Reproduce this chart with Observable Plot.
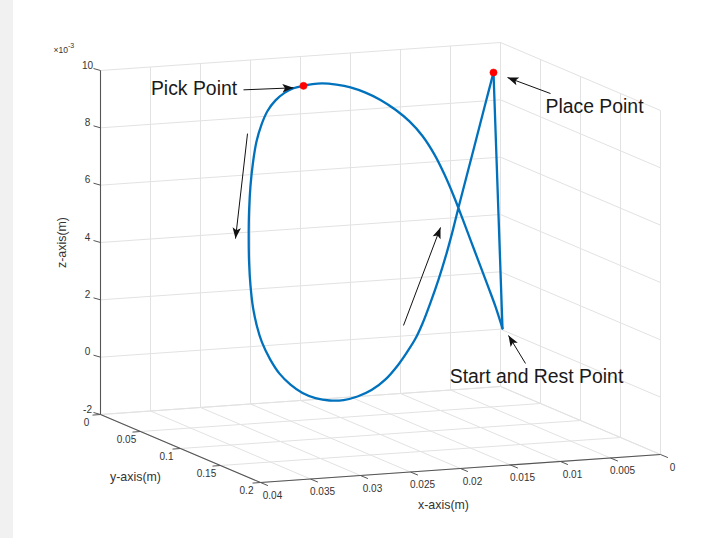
<!DOCTYPE html>
<html><head><meta charset="utf-8">
<script src="https://cdn.jsdelivr.net/npm/d3@7"></script>
<script src="https://cdn.jsdelivr.net/npm/@observablehq/plot@0.6"></script>
<style>
html,body{margin:0;padding:0;}
body{width:718px;height:538px;overflow:hidden;background:linear-gradient(to right,#f1f1f1 0,#f1f1f1 13px,#fff 13px);}
svg{display:block;}
</style></head><body><div id="chart"></div>
<script>
// ---------------- data (metres) ----------------
const pathX = [0.0038,0.0045,0.0052,0.0060,0.0069,0.0078,0.0087,0.0096,0.0106,0.0118,
               0.0131,0.0145,0.0160,0.0175,0.0190,0.0204,0.0218,0.0228,0.0237,
               0.0247,0.0256,0.0265,0.0273,0.0279,0.0284,0.02875,0.0290,0.02914,0.02918,
               0.02914,0.0290,0.02875,0.02835,0.02785,0.02705,0.0261,0.0250,0.0238,0.0225,
               0.0211,0.0197,0.0183,0.0169,0.0155,0.0142,0.0133,0.0125,0.0118,0.0110,
               0.0102,0.0094,0.00875,0.0082,0.00672,0.00543,0.0047,
               0.0038];
const pathY = [0.05,0.05,0.05,0.05,0.05,0.05,0.05,0.05,0.05,0.05,
               0.05,0.05,0.05,0.05,0.05,0.05,0.05,0.05,0.05,
               0.05,0.05,0.05,0.05,0.05,0.05,0.05,0.05,0.05,0.05,
               0.05,0.05,0.05,0.05,0.05,0.05,0.05,0.05,0.05,0.05,
               0.05,0.05,0.05,0.05,0.05,0.05,0.05,0.05,0.05,0.05,
               0.05,0.05,0.05,0.05,0.05,0.05,0.05,
               0.05];
const pathZ = [0.71e-3,1.49e-3,2.17e-3,2.93e-3,3.78e-3,4.64e-3,5.47e-3,6.22e-3,6.94e-3,7.62e-3,
               8.16e-3,8.60e-3,8.98e-3,9.27e-3,9.49e-3,9.62e-3,9.70e-3,9.70e-3,9.66e-3,
               9.60e-3,9.46e-3,9.22e-3,8.87e-3,8.41e-3,7.83e-3,7.11e-3,6.31e-3,5.44e-3,4.50e-3,
               3.63e-3,2.82e-3,2.05e-3,1.38e-3,0.81e-3,0.21e-3,-0.32e-3,-0.73e-3,-1.05e-3,-1.26e-3,
               -1.38e-3,-1.40e-3,-1.31e-3,-1.12e-3,-0.78e-3,-0.29e-3,0.14e-3,0.57e-3,1.08e-3,1.79e-3,
               2.57e-3,3.46e-3,4.28e-3,5.04e-3,6.99e-3,8.70e-3,9.66e-3,
               0.71e-3];
const pathPhase = ["move","move","move","move","move","move","move","move","move","move",
                   "move","move","move","move","move","move","move","move","move",
                   "move","move","move","move","move","move","move","move","move","move",
                   "move","move","move","move","move","move","move","move","move","move",
                   "move","move","move","move","move","move","move","move","move","move",
                   "move","move","move","move","move","move","move",
                   "return"];
const xTicks = [0,0.005,0.01,0.015,0.02,0.025,0.03,0.035,0.04];
const xTickLabels = ["0","0.005","0.01","0.015","0.02","0.025","0.03","0.035","0.04"];
const yTicks = [0,0.05,0.1,0.15,0.2];
const yTickLabels = ["0","0.05","0.1","0.15","0.2"];
const zTicks = [-0.002,0,0.002,0.004,0.006,0.008,0.01];
const zTickLabels = ["-2","0","2","4","6","8","10"];
const zExponent = ["×10","-3"];
const axisTitles = ["x-axis(m)","y-axis(m)","z-axis(m)"];
const annotationLabels = ["Pick Point","Place Point","Start and Rest Point"];
const annotationIndex = [18,55,0];
const markedIndex = [18,55];
const directionIndex = [27,47];

// ---------------- layout ----------------
const W = 718, H = 538;
const box = {origin:[100,414], ex:[400,-28], ey:[160,68], ez:[0,-344]};
const [xLo,xHi] = d3.extent(xTicks), [yLo,yHi] = d3.extent(yTicks), [zLo,zHi] = d3.extent(zTicks);
function proj(x,y,z){
  const fx=(xHi-x)/(xHi-xLo), fy=(y-yLo)/(yHi-yLo), fz=(z-zLo)/(zHi-zLo);
  return [box.origin[0]+fx*box.ex[0]+fy*box.ey[0]+fz*box.ez[0],
          box.origin[1]+fx*box.ex[1]+fy*box.ey[1]+fz*box.ez[1]];
}
const annotLayout = {
  "Pick Point": {tail:[-60,4], head:[-10,2], text:[-109.5,3]},
  "Place Point": {tail:[57,21], head:[14,5], text:[101,34.4]},
  "Start and Rest Point": {tail:[23,35], head:[6,7], text:[34,48.4]}
};
const directionLayout = [{tail:[-1.6,-77], head:[-13.6,28]}, {tail:[-19,2], head:[18,-96]}];
const FONT = "Liberation Sans, Arial, Helvetica, sans-serif";
const GRID = "#e2e2e2", AXIS = "#555", TXT = "#333";

// ---------------- derived geometry ----------------
const seg = (a,b) => { const p=proj(...a), q=proj(...b); return {x1:p[0],y1:p[1],x2:q[0],y2:q[1]}; };
const grid = [];
for (const x of xTicks) { grid.push(seg([x,yLo,zLo],[x,yLo,zHi])); grid.push(seg([x,yLo,zLo],[x,yHi,zLo])); }
for (const y of yTicks) { grid.push(seg([xLo,y,zLo],[xLo,y,zHi])); grid.push(seg([xHi,y,zLo],[xLo,y,zLo])); }
for (const z of zTicks) { grid.push(seg([xHi,yLo,z],[xLo,yLo,z])); grid.push(seg([xLo,yLo,z],[xLo,yHi,z])); }
const axes = [seg([xHi,yLo,zLo],[xHi,yLo,zHi]), seg([xHi,yLo,zLo],[xHi,yHi,zLo]), seg([xHi,yHi,zLo],[xLo,yHi,zLo])];

const ticks = [], tickText = [];
zTicks.forEach((z,i)=>{ const [px,py]=proj(xHi,yLo,z); ticks.push({x1:px,y1:py,x2:px-7,y2:py-2});
  tickText.push({x:px-13,y:py-5,t:zTickLabels[i],a:"end"}); });
yTicks.forEach((y,i)=>{ const [px,py]=proj(xHi,y,zLo); ticks.push({x1:px,y1:py,x2:px-8,y2:py+0.6});
  tickText.push({x:px-14,y:py+8,t:yTickLabels[i],a:"end"}); });
xTicks.forEach((x,i)=>{ const [px,py]=proj(x,yHi,zLo); ticks.push({x1:px,y1:py,x2:px+7.4,y2:py+3.1});
  tickText.push({x:px+12,y:py+13,t:xTickLabels[i],a:"start"}); });

const pts = pathX.map((x,i)=>{ const [px,py]=proj(x,pathY[i],pathZ[i]); return {px,py,phase:pathPhase[i]}; });
const moveLine = pts.filter(p=>p.phase!=="return");
const returnLine = pts.filter((p,i)=>p.phase==="return" || (pts[i+1] && pts[i+1].phase==="return"));
const marked = markedIndex.map(i=>pts[i]);

const arrows = [], labels = [];
annotationLabels.forEach((lab,k)=>{ const p=pts[annotationIndex[k]], L=annotLayout[lab];
  arrows.push({x1:p.px+L.tail[0],y1:p.py+L.tail[1],x2:p.px+L.head[0],y2:p.py+L.head[1]});
  labels.push({x:p.px+L.text[0],y:p.py+L.text[1],t:lab}); });
directionIndex.forEach((idx,k)=>{ const p=pts[idx], L=directionLayout[k];
  arrows.push({x1:p.px+L.tail[0],y1:p.py+L.tail[1],x2:p.px+L.head[0],y2:p.py+L.head[1]}); });
arrows.forEach(a=>{ a.angle = Math.atan2(a.x2-a.x1, -(a.y2-a.y1))*180/Math.PI; });

const headSymbol = {draw(ctx){ ctx.moveTo(0,0); ctx.lineTo(-4.2,11); ctx.lineTo(0,8.5); ctx.lineTo(4.2,11); ctx.closePath(); }};

const e0 = proj(xHi,yLo,zHi);
const titles = [
  {x:proj((xLo+xHi)/2,yHi,zLo)[0]-17, y:proj((xLo+xHi)/2,yHi,zLo)[1]+37, t:axisTitles[0], r:0},
  {x:proj(xHi,(yLo+yHi)/2,zLo)[0]-45, y:proj(xHi,(yLo+yHi)/2,zLo)[1]+29, t:axisTitles[1], r:0},
  {x:proj(xHi,yLo,(zLo+zHi)/2)[0]-38, y:proj(xHi,yLo,(zLo+zHi)/2)[1], t:axisTitles[2], r:-90}
];

const chart = Plot.plot({
  width: W, height: H, margin: 0,
  style: {background: "transparent", overflow: "visible"},
  x: {domain:[0,W], range:[0,W], axis:null},
  y: {domain:[0,H], range:[0,H], axis:null},
  marks: [
    Plot.link(grid, {x1:"x1",y1:"y1",x2:"x2",y2:"y2", stroke:GRID, strokeWidth:1}),
    Plot.link(axes, {x1:"x1",y1:"y1",x2:"x2",y2:"y2", stroke:AXIS, strokeWidth:1.1}),
    Plot.link(ticks, {x1:"x1",y1:"y1",x2:"x2",y2:"y2", stroke:AXIS, strokeWidth:1}),
    Plot.text(tickText, {x:"x",y:"y",text:"t",textAnchor:d=>d.a, fill:TXT, fontSize:10, fontFamily:FONT}),
    Plot.text([zExponent[0]], {x:()=>e0[0]-47, y:()=>e0[1]-20, text:d=>d, textAnchor:"start", fill:TXT, fontSize:8.5, fontFamily:FONT}),
    Plot.text([zExponent[1]], {x:()=>e0[0]-32.5, y:()=>e0[1]-24.5, text:d=>d, textAnchor:"start", fill:TXT, fontSize:7, fontFamily:FONT}),
    Plot.text(titles.filter(d=>d.r===0), {x:"x",y:"y",text:"t", fill:TXT, fontSize:12.4, fontFamily:FONT}),
    Plot.text(titles.filter(d=>d.r!==0), {x:"x",y:"y",text:"t", rotate:-90, fill:TXT, fontSize:12.4, fontFamily:FONT}),
    Plot.line(moveLine, {x:"px", y:"py", stroke:"#0072BD", strokeWidth:2.3, curve:"catmull-rom"}),
    Plot.line(returnLine, {x:"px", y:"py", stroke:"#0072BD", strokeWidth:2.3}),
    Plot.dot(marked, {x:"px", y:"py", r:3.6, fill:"#ff0000", stroke:"#ff0000", strokeWidth:0.5}),
    Plot.link(arrows, {x1:"x1",y1:"y1",x2:"x2",y2:"y2", stroke:"#111", strokeWidth:1}),
    Plot.dot(arrows, {x:"x2", y:"y2", symbol:headSymbol, rotate:"angle", fill:"#111", stroke:"none", r:5}),
    Plot.text(labels, {x:"x",y:"y",text:"t", fill:"#1a1a1a", fontSize:19.4, fontFamily:FONT})
  ]
});
document.getElementById("chart").appendChild(chart);
</script>
</body></html>
